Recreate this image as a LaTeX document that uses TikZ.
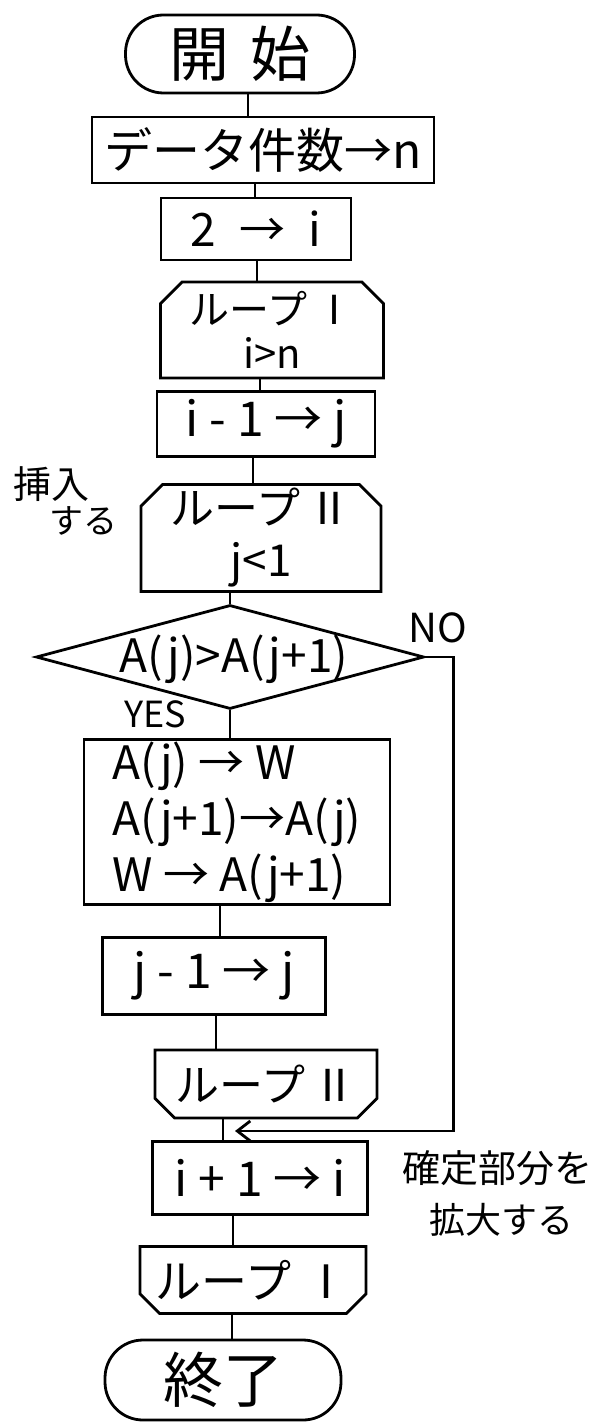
\documentclass[tikz,border=0pt]{standalone}
\usepackage{fontspec}
\setmainfont{Noto Sans CJK JP}
\usetikzlibrary{shapes.geometric,shapes.misc,arrows.meta}
\begin{document}
\begin{tikzpicture}[x=1pt,y=-1pt,
  every node/.style={inner sep=0pt},
  ln/.style={line width=2.8pt},
  txt/.style={font=\fontsize{44}{50}\selectfont},
  proc/.style={draw, ln, rectangle, txt},
  lstart/.style={draw, ln, chamfered rectangle, chamfered rectangle corners={north west,north east}, chamfered rectangle xsep=18pt, txt, align=center},
  lend/.style={draw, ln, chamfered rectangle, chamfered rectangle corners={south west,south east}, chamfered rectangle xsep=16pt, txt},
  term/.style={draw, ln, rectangle, rounded corners=38pt, font=\fontsize{60}{64}\selectfont},
  note/.style={font=\fontsize{38}{46}\selectfont, align=center},
  conn/.style={ln}]
\useasboundingbox (0,0) rectangle (608,1423);

\node[term, minimum width=229pt, minimum height=78pt] (start) at (240,54) {開\hspace{22pt}始};
\node[proc, minimum width=342pt, minimum height=66pt, font=\fontsize{48}{52}\selectfont] (data) at (263,150) {データ件数→n};
\node[proc, minimum width=190pt, minimum height=62pt, font=\fontsize{46}{52}\selectfont] (init) at (256,229) {2 \;→\; i};
\node[lstart, minimum width=223pt, minimum height=96pt, font=\fontsize{40}{44}\selectfont] (loop1) at (272,330) {ループ\,Ⅰ\\i>n};
\node[proc, minimum width=218pt, minimum height=65pt, font=\fontsize{48}{52}\selectfont] (ij) at (266,424) {i - 1 → j};
\node[lstart, minimum width=240pt, minimum height=107pt, font=\fontsize{44}{52}\selectfont] (loop2) at (261,538) {ループ\,Ⅱ\\j<1};
\node[diamond, draw, ln, minimum width=388pt, minimum height=104pt] (dec) at (230,657) {};
\node[font=\fontsize{46}{50}\selectfont] (dectext) at (234,659) {A(j)>A(j+1)};
\node[proc, minimum width=306pt, minimum height=165pt, align=left, font=\fontsize{46}{56}\selectfont] (swap) at (237,822) {A(j) → W\\A(j+1)→A(j)\\W → A(j+1)};
\node[proc, minimum width=223pt, minimum height=77pt, font=\fontsize{48}{52}\selectfont] (jdec) at (214,976) {j - 1 → j};
\node[lend, minimum width=222pt, minimum height=68pt, font=\fontsize{44}{48}\selectfont] (loop2e) at (266,1084) {ループ\,Ⅱ};
\node[proc, minimum width=215pt, minimum height=73pt, font=\fontsize{48}{52}\selectfont] (iinc) at (260,1178) {i + 1 → i};
\node[lend, minimum width=217pt, minimum height=67pt, font=\fontsize{46}{50}\selectfont] (loop1e) at (253,1280) {ループ\;Ⅰ};
\node[term, minimum width=236pt, minimum height=80pt] (end) at (223,1380) {終了};

\node[note, font=\fontsize{40}{46}\selectfont] (no) at (438,628) {NO};
\node[note, font=\fontsize{36}{40}\selectfont] (yes) at (155,714) {YES};
\node[note] (ann1) at (51,484) {挿入};
\node[note, font=\fontsize{34}{40}\selectfont] (ann2) at (83,521) {する};
\node[note] (ann3) at (497,1168) {確定部分を};
\node[note, font=\fontsize{36}{40}\selectfont] (ann4) at (501,1220) {拡大する};

\coordinate (join) at (223,1131);

\draw[conn] (start.south -| 248,0) -- (data.north -| 248,0);
\draw[conn] (data.south -| 255,0) -- (init.north -| 255,0);
\draw[conn] (init.south -| 257,0) -- (loop1.north -| 257,0);
\draw[conn] (loop1.south -| 260,0) -- (ij.north -| 260,0);
\draw[conn] (ij.south -| 253,0) -- (loop2.north -| 253,0);
\draw[conn] (loop2.south -| 230,0) -- (dec.north);
\draw[conn] (dec.south) -- (swap.north -| 230,0);
\draw[conn] (swap.south -| 220,0) -- (jdec.north -| 220,0);
\draw[conn] (jdec.south -| 216,0) -- (loop2e.north -| 216,0);
\draw[conn] (loop2e.south -| join) -- (join) -- (iinc.north -| join);
\draw[conn] (iinc.south -| 233,0) -- (loop1e.north -| 233,0);
\draw[conn] (loop1e.south -| 232,0) -- (end.north -| 232,0);
\draw[conn, -{Straight Barb[length=13pt,width=20pt,line width=2.8pt]}, shorten >=12pt]
  (dec.east) -- ++(28,0) |- (join);
\end{tikzpicture}
\end{document}
